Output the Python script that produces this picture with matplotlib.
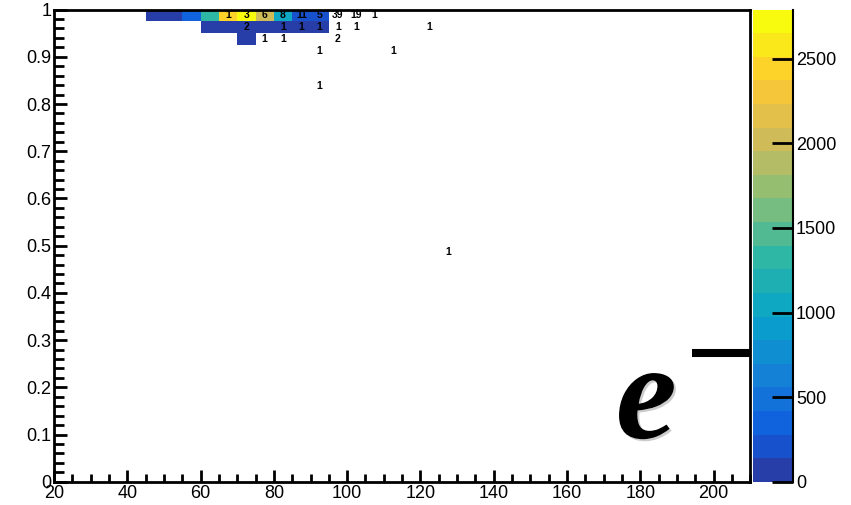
import numpy as np
import matplotlib
matplotlib.use("Agg")
import matplotlib.pyplot as plt
from matplotlib.colors import LinearSegmentedColormap, ListedColormap, BoundaryNorm
import matplotlib.patheffects as pe

plt.rcParams['font.family'] = ['Liberation Sans', 'DejaVu Sans']

# binning of the 2D histogram
x_edges = np.arange(20, 215, 5)
y_edges = np.linspace(0, 1, 41)
z_max = 2790
n_levels = 20

# filled (colour) bins: bin centres and contents
color_x = [47.5, 52.5, 57.5, 62.5, 67.5, 72.5, 77.5, 82.5, 87.5, 92.5,
           62.5, 67.5, 72.5, 77.5, 82.5, 87.5, 92.5,
           72.5]
color_y = [0.9875] * 10 + [0.9625] * 7 + [0.9375]
color_z = [90, 100, 350, 1300, 2450, 2790, 2020, 1030, 250, 210,
           40, 90, 70, 60, 50, 60, 80,
           30]

# overlaid text histogram
text_x = [67.5, 72.5, 77.5, 82.5, 87.5, 92.5, 97.5, 102.5, 107.5,
          72.5, 82.5, 87.5, 92.5, 97.5, 102.5, 122.5,
          77.5, 82.5, 97.5,
          92.5, 112.5,
          92.5,
          127.5]
text_y = [0.9875] * 9 + [0.9625] * 7 + [0.9375] * 3 + [0.9125] * 2 + [0.8375] + [0.4875]
text_val = [1, 3, 6, 8, 11, 5, 39, 19, 1,
            2, 1, 1, 1, 1, 1, 1,
            1, 1, 2,
            1, 1,
            1,
            1]

# ROOT kBird palette
stops = [0.0, 0.125, 0.25, 0.375, 0.5, 0.625, 0.75, 0.875, 1.0]
red = [0.2082, 0.0592, 0.0780, 0.0232, 0.1802, 0.5301, 0.8186, 0.9956, 0.9764]
green = [0.1664, 0.3599, 0.5041, 0.6419, 0.7178, 0.7492, 0.7328, 0.7862, 0.9832]
blue = [0.5293, 0.8684, 0.8385, 0.7914, 0.6425, 0.4662, 0.3499, 0.1968, 0.0539]
bird = LinearSegmentedColormap.from_list(
    "bird", [(s, (r, g, b)) for s, r, g, b in zip(stops, red, green, blue)])
level_cols = [bird((i + 0.99) / n_levels) for i in range(n_levels)]
cmap = ListedColormap(level_cols)
cmap.set_bad('white')
bounds = np.linspace(0, z_max, n_levels + 1)
norm = BoundaryNorm(bounds, cmap.N)

H, _, _ = np.histogram2d(color_x, color_y, bins=[x_edges, y_edges], weights=color_z)
H = np.ma.masked_where(H <= 0, H).T

fig = plt.figure(figsize=(8.51, 5.05), dpi=100)
ax = fig.add_axes([0.0635, 0.046, 0.818, 0.935])
cax = fig.add_axes([0.885, 0.046, 0.047, 0.935])

mesh = ax.pcolormesh(x_edges, y_edges, H, cmap=cmap, norm=norm)

for x, y, v in zip(text_x, text_y, text_val):
    ax.text(x, y, str(v), ha='center', va='center', fontsize=7.5,
            fontweight='bold', color='black')

ax.set_xlim(20, 210)
ax.set_ylim(0, 1)
ax.set_xticks(np.arange(20, 201, 20))
ax.set_xticks(np.arange(20, 211, 5), minor=True)
ax.set_yticks(np.round(np.arange(0, 1.01, 0.1), 1))
ax.set_yticklabels(['0', '0.1', '0.2', '0.3', '0.4', '0.5', '0.6', '0.7', '0.8', '0.9', '1'])
ax.set_yticks(np.arange(0, 1.001, 0.02), minor=True)
ax.tick_params(which='both', direction='in', top=False, right=False,
               width=2, labelsize=13, pad=2)
ax.tick_params(axis='x', which='major', length=9)
ax.tick_params(axis='x', which='minor', length=6)
ax.tick_params(axis='y', which='major', length=9)
ax.tick_params(axis='y', which='minor', length=7)
for s in ax.spines.values():
    s.set_linewidth(2)

# particle label
e_txt = ax.text(0.807, 0.093, 'e', transform=ax.transAxes, fontsize=99,
                family='Liberation Serif', fontstyle='italic', fontweight='bold',
                ha='left', va='baseline')
e_txt.set_path_effects([pe.SimplePatchShadow(offset=(1.5, -1.5), alpha=0.2), pe.Normal()])
ax.plot([0.917, 1.0], [0.272, 0.272], transform=ax.transAxes, color='black',
        lw=5.8, solid_capstyle='butt')

cb = fig.colorbar(mesh, cax=cax, ticks=np.arange(0, 2501, 500))
cb.outline.set_visible(False)
cax.minorticks_off()
cax.tick_params(direction='in', length=15, width=2, labelsize=13, pad=2)
cax.plot([1, 1], [0, 1], transform=cax.transAxes, color='black', lw=1.5, clip_on=False)

fig.savefig("out.png", dpi=100)
